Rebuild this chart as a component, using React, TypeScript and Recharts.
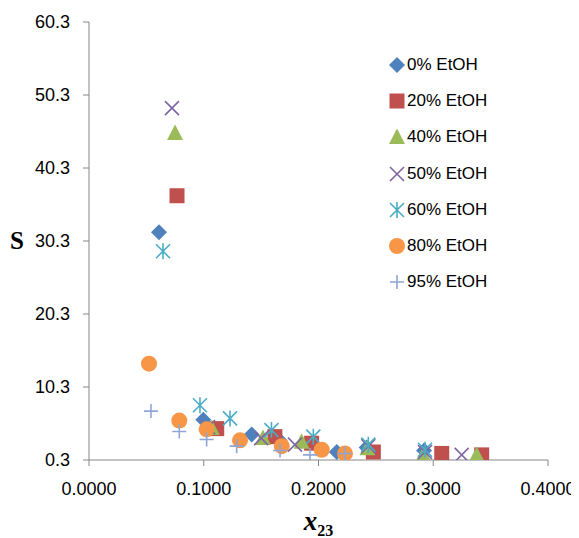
import React from 'react';
import { ScatterChart, Scatter, XAxis, YAxis, Legend, Label } from 'recharts';

// ---- data ----
const seriesNames = ['0% EtOH', '20% EtOH', '40% EtOH', '50% EtOH', '60% EtOH', '80% EtOH', '95% EtOH'];

const x0 = [0.0610, 0.0996, 0.1418, 0.1660, 0.2159, 0.2420, 0.2920];
const s0 = [31.5, 5.8, 3.8, 3.0, 1.4, 2.0, 1.6];

const x20 = [0.0767, 0.1113, 0.1620, 0.1940, 0.2478, 0.3074, 0.3422];
const s20 = [36.5, 4.6, 3.5, 2.6, 1.4, 1.2, 1.0];

const x40 = [0.0750, 0.1070, 0.1516, 0.1853, 0.2426, 0.2913, 0.3379];
const s40 = [45.1, 4.7, 3.3, 2.8, 1.9, 1.0, 1.0];

const x50 = [0.0723, 0.1037, 0.1500, 0.1795, 0.2434, 0.2928, 0.3248];
const s50 = [48.5, 4.8, 3.3, 2.4, 2.2, 1.4, 1.0];

const x60 = [0.0645, 0.0967, 0.1229, 0.1590, 0.1955, 0.2434, 0.2928];
const s60 = [28.9, 7.8, 6.0, 4.4, 3.5, 2.4, 1.7];

const x80 = [0.0523, 0.0787, 0.1025, 0.1316, 0.1680, 0.2028, 0.2231];
const s80 = [13.5, 5.7, 4.5, 3.0, 2.2, 1.7, 1.2];

const x95 = [0.0540, 0.0787, 0.1025, 0.1287, 0.1665, 0.1926, 0.2230];
const s95 = [7.0, 4.2, 3.1, 2.2, 1.6, 1.0, 1.2];

const xTicks = [0, 0.1, 0.2, 0.3, 0.4];
const yTicks = [0.3, 10.3, 20.3, 30.3, 40.3, 50.3, 60.3];

// ---- styling ----
const colors = ['#4F81BD', '#C0504D', '#9BBB59', '#8064A2', '#4BACC6', '#F79646', '#8EA5D6'];
const kinds = ['diamond', 'square', 'triangle', 'x', 'star', 'circle', 'plus'];

const allX = [x0, x20, x40, x50, x60, x80, x95];
const allS = [s0, s20, s40, s50, s60, s80, s95];

const seriesData = allX.map((xs, i) => xs.map((x, j) => ({ x, y: allS[i][j] })));

function Marker({ kind, color, cx, cy }: { kind: string; color: string; cx: number; cy: number }) {
  switch (kind) {
    case 'diamond':
      return <path d={`M${cx},${cy - 8}L${cx + 8},${cy}L${cx},${cy + 8}L${cx - 8},${cy}Z`} fill={color} />;
    case 'square':
      return <rect x={cx - 7.5} y={cy - 7.5} width={15} height={15} fill={color} />;
    case 'triangle':
      return <path d={`M${cx},${cy - 8.5}L${cx + 8},${cy + 7}L${cx - 8},${cy + 7}Z`} fill={color} />;
    case 'x':
      return (
        <path d={`M${cx - 7},${cy - 7}L${cx + 7},${cy + 7}M${cx - 7},${cy + 7}L${cx + 7},${cy - 7}`} stroke={color} strokeWidth={1.6} fill="none" />
      );
    case 'star':
      return (
        <path
          d={`M${cx - 7},${cy - 7}L${cx + 7},${cy + 7}M${cx - 7},${cy + 7}L${cx + 7},${cy - 7}M${cx},${cy - 8}L${cx},${cy + 8}`}
          stroke={color}
          strokeWidth={1.6}
          fill="none"
        />
      );
    case 'circle':
      return <circle cx={cx} cy={cy} r={8} fill={color} />;
    case 'plus':
      return <path d={`M${cx - 7},${cy}L${cx + 7},${cy}M${cx},${cy - 7}L${cx},${cy + 7}`} stroke={color} strokeWidth={1.6} fill="none" />;
    default:
      return null;
  }
}

const makeShape = (kind: string, color: string) => (props: any) => {
  const { cx, cy } = props;
  if (cx == null || cy == null) return <g />;
  return <Marker kind={kind} color={color} cx={cx} cy={cy} />;
};

const fontFamily = '"Liberation Sans", Arial, sans-serif';

function LegendBox() {
  return (
    <div style={{ fontFamily, fontSize: 17, color: '#000' }}>
      {seriesNames.map((name, i) => (
        <div key={name} style={{ height: 36.2, display: 'flex', alignItems: 'center', whiteSpace: 'nowrap' }}>
          <svg width={16} height={18} style={{ marginRight: 2 }}>
            <Marker kind={kinds[i]} color={colors[i]} cx={8} cy={9} />
          </svg>
          <span>{name}</span>
        </div>
      ))}
    </div>
  );
}

const renderYTitle = (props: any) => {
  const vb = props.viewBox || {};
  return (
    <text x={2} y={vb.y + vb.height / 2 + 8} fontFamily='"Liberation Serif", "Times New Roman", serif' fontWeight="bold" fontSize={25} fill="#000">
      S
    </text>
  );
};

const renderXTitle = (props: any) => {
  const vb = props.viewBox || {};
  return (
    <text x={vb.x + vb.width / 2} y={vb.y + 70} textAnchor="middle" fontFamily='"Liberation Serif", "Times New Roman", serif' fontWeight="bold" fill="#000">
      <tspan fontStyle="italic" fontSize={27}>x</tspan>
      <tspan fontSize={16} dy={6}>23</tspan>
    </text>
  );
};

export default function App() {
  return (
    <ScatterChart width={571} height={530} margin={{ top: 14, right: 31, bottom: 0, left: 0 }} style={{ background: '#fff', overflow: 'visible' }}>
      <XAxis
        type="number"
        dataKey="x"
        domain={[0, 0.4]}
        ticks={xTicks}
        tickFormatter={(v: number) => v.toFixed(4)}
        height={78}
        stroke="#868686"
        tickSize={6}
        tickMargin={16}
        tick={{ fill: '#000', fontSize: 18, fontFamily }}
        allowDataOverflow
      >
        <Label content={renderXTitle} />
      </XAxis>
      <YAxis
        type="number"
        dataKey="y"
        domain={[0.3, 60.3]}
        ticks={yTicks}
        tickFormatter={(v: number) => v.toFixed(1)}
        width={81}
        stroke="#868686"
        tickSize={6}
        tickMargin={13}
        tick={{ fill: '#000', fontSize: 18, fontFamily }}
        allowDataOverflow
      >
        <Label content={renderYTitle} />
      </YAxis>
      <Legend
        layout="vertical"
        align="center"
        verticalAlign="middle"
        wrapperStyle={{ left: 381, top: 39, width: 130 }}
        content={() => <LegendBox />}
      />
      {seriesNames.map((name, i) => (
        <Scatter
          key={name}
          name={name}
          data={seriesData[i]}
          fill={colors[i]}
          shape={makeShape(kinds[i], colors[i])}
          isAnimationActive={false}
        />
      ))}
    </ScatterChart>
  );
}
